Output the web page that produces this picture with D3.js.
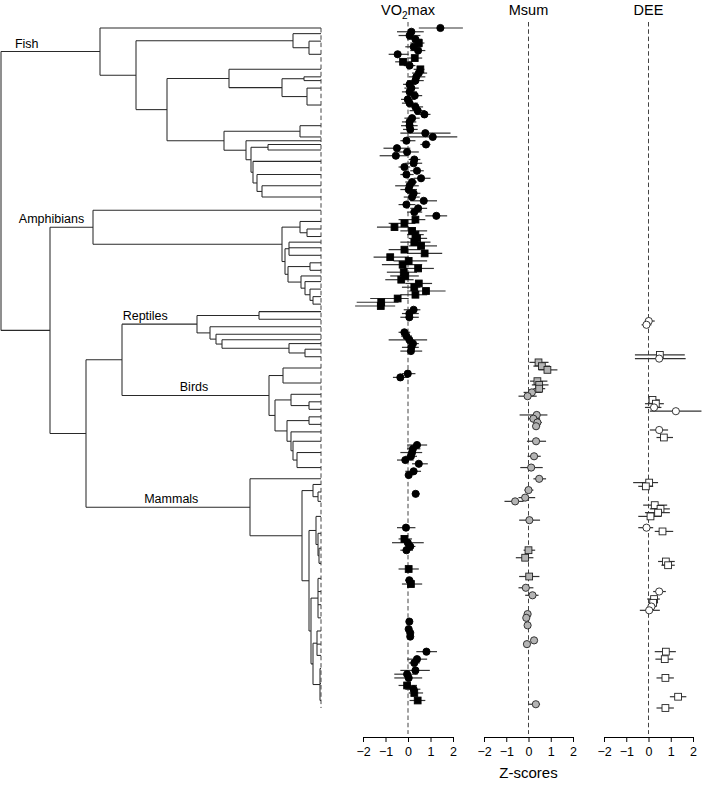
<!DOCTYPE html>
<html><head><meta charset="utf-8">
<script src="https://cdn.jsdelivr.net/npm/d3@7"></script>
<style>
body{margin:0;background:#fff}
svg{display:block}
text{font-family:"Liberation Sans",Arial,Helvetica,sans-serif;fill:#000}
</style>
</head><body>
<svg id="chart" width="709" height="786"></svg>
<script>
// ---------------- DATA ----------------
// Tree clades: integers = number of terminal taxa (rows) in a tip group; "@age" = node age (arbitrary time units, tips = 0)
const fishClade = "(1,((2,(2,5)@12)@28,((3,((1,1)@17,(3,6)@14)@39)@92,((5,1)@21,(1,((1,2)@53,(4,(3,(3,3)@59)@64)@68)@70)@75)@97)@154)@185)@221=Fish";
const amphibianClade = "(4,((2,(2,2)@14)@21,((1,2,2)@32,((2,2)@11,(1,(2,(2,(2,2)@8)@11)@16)@20)@33)@36)@39)@228=Amphibians";
const reptileClade = "((2,2)@62,(2,(2,(1,(1,(2,2)@16)@32)@99)@105)@111)@124=Reptiles";
const birdClade = "((4,4)@38,((2,(2,2)@12)@30,((2,2)@12,(2,(3,(3,5)@24)@28)@30)@34)@46)@52=Birds";
const mammalClade = "(1,((2,(2,3)@3)@8,((5,(4,(4,4)@2)@3)@5,((4,3,4,3)@3,((4,3,3)@4,(4,4,5)@1)@8)@10)@12)@19)@71=Mammals";
const sauropsidAge = 199, amnioteAge = 235, tetrapodAge = 271, rootAge = 320;

const cladeNames = ["Fish", "Amphibians", "Reptiles", "Birds", "Mammals"];
const cladeLabelFrac = [0.26, 0.035, 0.31, 0.49, 0.52];

const panelTitles = ["VO2max", "Msum", "DEE"];
const tickValues = [-2, -1, 0, 1, 2];
const axisTitle = "Z-scores";

// VO2max (black symbols)
const vo2Row = [0,1,2,3,4,5,6,7,8,9,10,11,12,13,14,15,16,17,18,19,20,21,22,23,24,25,26,27,28,29,30,31,32,33,34,35,36,37,38,39,40,41,42,43,44,45,46,47,48,49,50,
  51,52,53,54,55,56,57,58,59,60,61,62,63,64,65,66,67,68,69,70,71,72,73,74,
  75,76,77,81,82,83,84,85,86,
  92,93,111,112,113,114,115,116,118,119,
  124,133,136,137,138,139,144,147,148,158,160,161,162,166,168,169,171,172,173,175,176,177,179];
const vo2Val = [1.44,0.15,0.07,0.33,0.48,0.25,0.45,-0.46,0.30,-0.22,0.07,0.55,0.48,0.37,0.33,0.07,0.15,0.07,0.30,-0.01,0.07,0.33,0.43,0.73,0.18,0.07,0.07,0.10,0.77,1.10,-0.07,0.80,-0.49,-0.04,-0.54,0.28,0.25,-0.16,0.40,-0.07,0.58,0.18,0.07,0.03,0.25,0.18,0.70,-0.07,0.45,0.28,1.26,
  0.33,-0.16,-0.60,0.18,0.33,0.40,0.28,0.58,-0.16,0.74,-0.79,0.03,-0.24,0.45,-0.19,-0.12,-0.30,0.48,0.28,0.80,0.33,-0.46,-1.19,-1.21,
  0.25,0.06,0.06,-0.16,-0.07,0.06,0.22,0.15,0.13,
  -0.01,-0.34,0.40,0.22,0.18,0.13,-0.12,0.48,0.25,0.03,
  0.34,-0.09,-0.16,-0.01,0.10,-0.07,0.03,0.06,0.13,0.06,0.03,0.10,0.10,0.82,0.40,0.28,0.33,-0.04,0.03,-0.04,0.25,0.28,0.43];
const vo2Lo = [0.48,-0.49,-0.42,-0.04,0.10,-0.12,0.10,-0.86,-0.04,-0.57,-0.19,0.25,0.18,0.03,-0.04,-0.22,-0.16,-0.27,-0.04,-0.31,-0.27,-0.01,0.07,0.33,-0.16,-0.27,-0.31,-0.22,-0.34,-0.04,-0.34,0.55,-1.09,-0.42,-1.26,0.03,-0.12,-0.42,0.10,-0.34,0.25,-0.12,-0.57,-0.34,-0.04,-0.19,0.10,-0.42,0.10,-0.04,0.77,
  -0.42,-0.86,-1.38,-0.34,-0.04,0.03,-0.34,0.03,-0.86,-0.04,-1.53,-0.64,-1.16,-0.19,-0.94,-0.79,-1.01,-0.12,-0.27,-0.04,-0.34,-1.68,-2.28,-2.35,
  -0.19,-0.27,-0.34,-0.42,-0.31,-0.86,-0.04,-0.27,-0.34,
  -0.27,-0.67,-0.04,-0.04,-0.34,-0.12,-0.49,0.18,-0.12,-0.12,
  0.18,-0.49,-0.42,-0.71,-0.12,-0.34,-0.42,-0.12,-0.27,-0.04,-0.07,0.00,0.00,0.37,-0.04,0.03,-0.34,-0.61,-0.61,-0.42,-0.12,0.03,0.07];
const vo2Hi = [2.44,0.70,0.55,0.63,0.73,0.63,0.77,0.03,0.63,0.18,0.33,0.73,0.85,0.77,0.70,0.37,0.48,0.40,0.63,0.33,0.43,0.67,0.77,1.00,0.52,0.37,0.43,0.43,1.89,2.19,0.33,1.00,0.10,0.48,-0.04,0.55,0.63,0.10,0.70,0.25,1.00,0.40,0.48,0.40,0.55,0.52,1.29,0.33,0.85,0.63,1.74,
  0.77,0.33,0.03,0.85,0.70,0.85,1.00,1.29,0.55,1.52,0.03,0.85,0.63,1.15,0.40,0.48,0.25,1.07,0.55,1.67,0.85,0.03,-0.42,-0.57,
  0.55,0.48,0.48,0.10,0.18,0.85,0.48,0.48,0.63,
  0.33,0.03,0.85,0.55,0.63,0.40,0.25,0.88,0.58,0.18,
  0.52,0.33,0.18,0.70,0.33,0.22,0.48,0.25,0.63,0.18,0.13,0.21,0.21,1.29,0.85,0.52,0.97,0.43,0.63,0.40,0.55,0.67,0.77];
const vo2SquareRows = [4,8,9,11,51,52,53,54,55,56,57,58,59,60,61,62,63,64,65,66,67,68,69,70,71,72,73,74,136,144,148,175,177,179];

// Msum (grey symbols)
const msumRow = [89,90,91,94,95,96,97,98,103,104,105,106,110,114,117,120,123,125,126,131,139,141,146,149,151,156,157,159,163,164,180];
const msumVal = [0.45,0.60,0.85,0.40,0.48,0.48,0.15,-0.04,0.37,0.22,0.40,0.34,0.34,0.25,0.12,0.48,0.00,-0.15,-0.60,0.04,0.00,-0.15,0.03,-0.12,0.18,-0.04,-0.10,-0.04,0.25,-0.07,0.33];
const msumLo = [0.04,0.22,0.45,0.07,0.15,0.22,-0.22,-0.45,-0.40,0.00,0.22,0.19,-0.07,-0.04,-0.37,0.22,-0.18,-0.45,-1.08,-0.42,-0.22,-0.57,-0.42,-0.45,-0.15,-0.10,-0.16,-0.10,0.18,-0.15,0.00];
const msumHi = [0.90,0.97,1.30,0.85,0.90,0.75,0.60,0.37,0.85,0.52,0.60,0.52,0.79,0.55,0.64,0.79,0.22,0.30,-0.22,0.52,0.30,0.22,0.49,0.22,0.45,0.02,-0.04,0.02,0.34,0.00,0.52];
const msumSquareRows = [89,90,91,94,95,96,139,141,146];

// DEE (white symbols)
const deeRow = [78,79,87,88,99,100,101,102,107,109,121,122,127,128,129,130,133,134,142,143,150,152,153,154,155,166,168,173,178,181];
const deeVal = [0.01,-0.09,0.51,0.48,0.18,0.33,0.25,1.23,0.48,0.69,0.03,-0.12,0.28,0.54,0.43,0.09,-0.09,0.63,0.78,0.88,0.48,0.25,0.21,0.13,0.03,0.78,0.73,0.76,1.33,0.76];
const deeLo = [-0.16,-0.31,-0.61,-0.61,-0.01,-0.16,-0.16,0.06,0.06,0.36,-0.69,-0.46,-0.24,0.06,-0.16,-0.46,-0.46,0.28,0.43,0.58,0.21,-0.06,0.03,-0.01,-0.39,0.28,0.31,0.36,0.96,0.36];
const deeHi = [0.28,0.13,1.63,1.67,0.51,0.69,0.58,2.38,0.88,1.10,0.43,0.21,0.84,0.96,0.96,0.58,0.21,1.11,1.18,1.18,0.78,0.51,0.43,0.33,0.51,1.23,1.11,1.14,1.70,1.14];
const deeSquareRows = [87,99,100,109,121,122,127,128,129,130,134,142,143,152,153,166,168,173,178,181];

// ---------------- TREE PARSING ----------------
function parseTree(s) {
  let i = 0;
  function num() { const m = /^[0-9.]+/.exec(s.slice(i)); i += m[0].length; return +m[0]; }
  function node() {
    if (s[i] === "(") {
      i++;
      const kids = [node()];
      while (s[i] === ",") { i++; kids.push(node()); }
      i++; // ")"
      let age = 0, name = null;
      if (s[i] === "@") { i++; age = num(); }
      if (s[i] === "=") { i++; const m = /^[A-Za-z]+/.exec(s.slice(i)); name = m[0]; i += name.length; }
      return { children: kids, age, name };
    }
    return { size: num(), age: 0 };
  }
  return node();
}
const newick = "(" + fishClade + ",(" + amphibianClade + ",((" + reptileClade + "," + birdClade + ")@" + sauropsidAge + "," +
  mammalClade + ")@" + amnioteAge + ")@" + tetrapodAge + ")@" + rootAge;
const root = d3.hierarchy(parseTree(newick), d => d.children);
const nRows = d3.sum(root.leaves(), l => l.data.size);

// ---------------- SCALES ----------------
const svg = d3.select("#chart");
const yRow = d3.scaleLinear().domain([0, nRows - 1]).range([28, 708]);
const xAge = d3.scaleLinear().domain([rootAge, 0]).range([1, 321]);

let r = 0;
root.leaves().forEach(l => {
  const rows = d3.range(r, r + l.data.size);
  l.rowY = d3.mean(rows, k => yRow(k));
  r += l.data.size;
});
root.eachAfter(n => {
  n.px = xAge(n.data.age);
  if (n.children) n.py = (n.children[0].py + n.children[n.children.length - 1].py) / 2;
  else n.py = n.rowY;
});

// ---------------- DRAW TREE ----------------
const gTree = svg.append("g").attr("stroke", "#2a2a2a").attr("stroke-width", 1.05).attr("fill", "none");
root.descendants().forEach(n => {
  if (n.parent) {
    gTree.append("line").attr("x1", n.parent.px).attr("x2", n.px).attr("y1", n.py).attr("y2", n.py);
  }
  if (n.children) {
    gTree.append("line").attr("x1", n.px).attr("x2", n.px)
      .attr("y1", n.children[0].py).attr("y2", n.children[n.children.length - 1].py);
  }
});
// dashed line along tips
svg.append("line").attr("x1", xAge(0)).attr("x2", xAge(0)).attr("y1", yRow(0)).attr("y2", yRow(nRows - 1))
  .attr("stroke", "#444").attr("stroke-width", 1).attr("stroke-dasharray", "4.5,2.8");

// clade labels
root.descendants().filter(n => n.data.name).forEach(n => {
  const k = cladeNames.indexOf(n.data.name);
  const f = k >= 0 ? cladeLabelFrac[k] : 0.5;
  svg.append("text")
    .attr("x", n.parent.px + f * (n.px - n.parent.px))
    .attr("y", n.py - 4)
    .attr("text-anchor", "middle")
    .attr("font-size", 12.5)
    .text(n.data.name);
});

// ---------------- PANELS ----------------
const panels = [
  { title: panelTitles[0], range: [363, 453], rows: vo2Row, val: vo2Val, lo: vo2Lo, hi: vo2Hi, sq: vo2SquareRows, fill: "#000", stroke: "#000" },
  { title: panelTitles[1], range: [484, 573], rows: msumRow, val: msumVal, lo: msumLo, hi: msumHi, sq: msumSquareRows, fill: "#b4b4b4", stroke: "#222" },
  { title: panelTitles[2], range: [604, 693], rows: deeRow, val: deeVal, lo: deeLo, hi: deeHi, sq: deeSquareRows, fill: "#fff", stroke: "#222" }
];
const axisY = 737;
const fmt = d => d < 0 ? "\u2212" + Math.abs(d) : String(d);

panels.forEach((p, pi) => {
  const x = d3.scaleLinear().domain([-2, 2]).range(p.range);
  const g = svg.append("g");
  // zero line
  g.append("line").attr("x1", x(0)).attr("x2", x(0)).attr("y1", 22).attr("y2", axisY - 3)
    .attr("stroke", "#444").attr("stroke-width", 1).attr("stroke-dasharray", "4.5,2.8");
  // title
  const t = g.append("text").attr("x", x(0)).attr("y", 15).attr("text-anchor", "middle").attr("font-size", 14.5);
  if (p.title === "VO2max") {
    t.append("tspan").text("VO");
    t.append("tspan").attr("font-size", 10).attr("dy", 3.5).text("2");
    t.append("tspan").attr("dy", -3.5).text("max");
  } else t.text(p.title);
  // data
  const pts = p.rows.map((row, i) => ({ row, v: p.val[i], lo: p.lo[i], hi: p.hi[i], sq: p.sq.includes(row) }));
  g.append("g").selectAll("line").data(pts).join("line")
    .attr("x1", d => x(d.lo)).attr("x2", d => x(d.hi))
    .attr("y1", d => yRow(d.row)).attr("y2", d => yRow(d.row))
    .attr("stroke", "#333").attr("stroke-width", 1.2);
  const gm = g.append("g");
  pts.forEach(d => {
    if (d.sq) {
      gm.append("rect").attr("x", x(d.v) - 3.4).attr("y", yRow(d.row) - 3.4).attr("width", 6.8).attr("height", 6.8)
        .attr("fill", p.fill).attr("stroke", p.stroke).attr("stroke-width", 0.9);
    } else {
      gm.append("circle").attr("cx", x(d.v)).attr("cy", yRow(d.row)).attr("r", 3.6)
        .attr("fill", p.fill).attr("stroke", p.stroke).attr("stroke-width", 0.9);
    }
  });
  // axis
  const ax = d3.axisBottom(x).tickValues(tickValues).tickSize(5).tickSizeOuter(0).tickPadding(5).tickFormat(fmt);
  const ga = svg.append("g").attr("transform", `translate(0,${axisY})`).call(ax);
  ga.selectAll("text").attr("font-size", 12.5).attr("font-family", "Liberation Sans, Arial, sans-serif").attr("fill", "#000");
  ga.selectAll("path,line").attr("stroke", "#000").attr("stroke-width", 1);
  if (pi === 1) {
    svg.append("text").attr("x", x(0)).attr("y", 778).attr("text-anchor", "middle").attr("font-size", 15).text(axisTitle);
  }
});
</script>
</body></html>
